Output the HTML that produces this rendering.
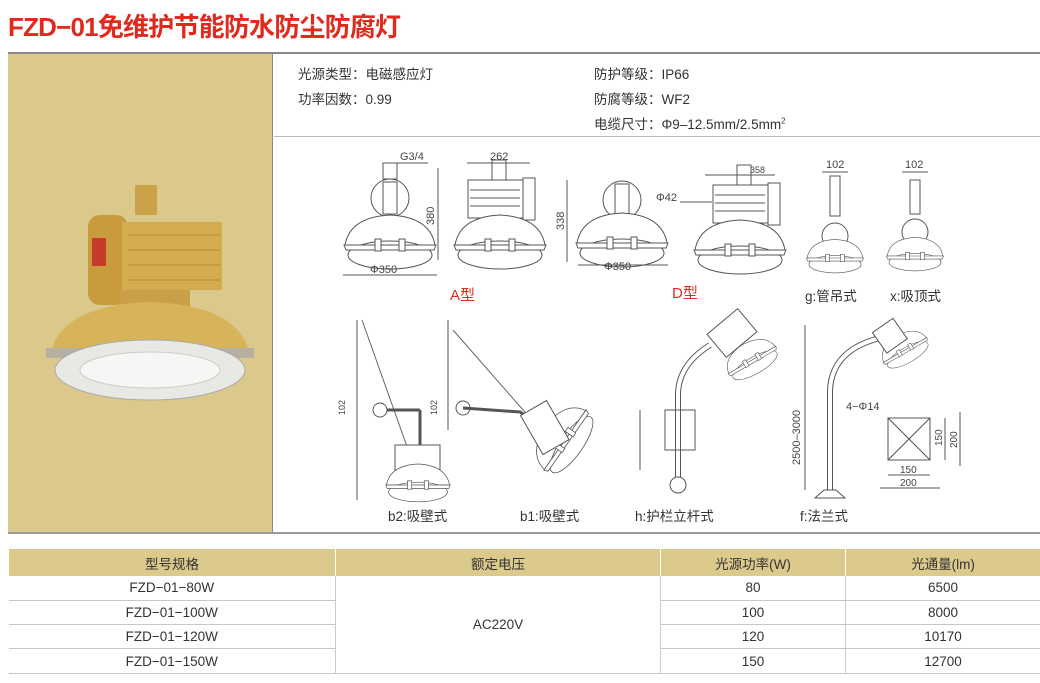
<!DOCTYPE html>
<html><head><meta charset="utf-8"><style>
*{margin:0;padding:0;box-sizing:border-box}
body{width:1040px;height:683px;background:#fff;position:relative;overflow:hidden;font-family:"Liberation Sans","Noto Sans CJK SC",sans-serif;color:#333}
.t{position:absolute;white-space:nowrap}
.title{left:8px;top:7px;font-size:26px;color:#e02a1e;font-weight:bold;letter-spacing:-0.8px}
.spec{font-size:13.5px;color:#333}
table{position:absolute;left:8px;top:549px;width:1032px;border-collapse:collapse;font-size:13.5px;color:#333}
td{text-align:center;height:24.3px;border-bottom:1.5px solid #c8c8c8;border-left:1px solid #ccc;padding:0}
tr.h td{background:#dcc98c;height:27px;border-bottom:none;border-left:1px solid #fff}
td:first-child{border-left:none}
</style></head><body>
<div class="t title">FZD−01免维护节能防水防尘防腐灯</div>
<div style="position:absolute;left:8px;top:52px;width:1032px;height:2px;background:#888"></div>
<div style="position:absolute;left:8px;top:54px;width:265px;height:479px;background:#dbc98b;border-right:1px solid #888"></div>
<div style="position:absolute;left:274px;top:136px;width:766px;height:1px;background:#bbb"></div>
<div style="position:absolute;left:8px;top:532px;width:1032px;height:2px;background:#999"></div>
<div class="t spec" style="left:298px;top:63px">光源类型：电磁感应灯</div>
<div class="t spec" style="left:298px;top:88px">功率因数：0.99</div>
<div class="t spec" style="left:594px;top:63px">防护等级：IP66</div>
<div class="t spec" style="left:594px;top:88px">防腐等级：WF2</div>
<div class="t spec" style="left:594px;top:113px">电缆尺寸：Φ9–12.5mm/2.5mm<sup style="font-size:8px">2</sup></div>

<svg style="position:absolute;left:0;top:0" width="1040" height="683">
<defs>
<g id="shade" fill="#fff" stroke="#555" stroke-width="1">
<path d="M-45 0 Q-40 -28 0 -30 Q40 -28 45 0 Z"/>
<ellipse cx="0" cy="10" rx="42" ry="14"/>
<path d="M-46 0 L46 0 L44 5 L-44 5 Z"/>
<rect x="-15" y="-6" width="6" height="12"/><rect x="9" y="-6" width="6" height="12"/>
</g>
<g id="box" fill="#fff" stroke="#555"><rect x="-32" y="-20" width="55" height="38"/><rect x="23" y="-22" width="12" height="42"/>
<line x1="-30" y1="-10" x2="20" y2="-10"/><line x1="-30" y1="-2" x2="20" y2="-2"/><line x1="-30" y1="6" x2="20" y2="6"/><rect x="-8" y="-40" width="14" height="20"/></g>
</defs>
<g>
<rect x="135" y="185" width="22" height="30" fill="#c9a24a"/>
<rect x="88" y="215" width="40" height="90" rx="12" fill="#c89c3c"/>
<rect x="122" y="222" width="100" height="68" fill="#d4ac50"/>
<g stroke="#b08a35"><line x1="128" y1="235" x2="220" y2="235"/><line x1="128" y1="250" x2="220" y2="250"/><line x1="128" y1="265" x2="220" y2="265"/><line x1="128" y1="280" x2="220" y2="280"/></g>
<rect x="92" y="238" width="14" height="28" fill="#c83a2a"/>
<rect x="120" y="290" width="70" height="25" fill="#c9a048"/>
<path d="M50 355 Q60 305 150 302 Q240 305 250 355 Z" fill="#d7b45a"/>
<rect x="46" y="348" width="208" height="10" fill="#b6b0a0"/>
<ellipse cx="150" cy="370" rx="95" ry="30" fill="#e8e8e4" stroke="#aaa"/>
<ellipse cx="150" cy="370" rx="70" ry="18" fill="#f6f6f4" stroke="#ccc"/>
</g>
<g font-size="11" fill="#444" font-family="Liberation Sans, sans-serif">
<rect x="383" y="163" width="14" height="16" fill="#fff" stroke="#555"/>
<circle cx="390" cy="198" r="19" fill="#fff" stroke="#555"/><rect x="383" y="182" width="14" height="32" fill="#fff" stroke="#555"/>
<use href="#shade" x="390" y="245"/>
<line x1="343" y1="275" x2="437" y2="275" stroke="#555"/><text x="370" y="273">Φ350</text>
<line x1="438" y1="168" x2="438" y2="260" stroke="#555"/><text x="434" y="225" transform="rotate(-90 434 225)">380</text>
<text x="400" y="160">G3/4</text><line x1="397" y1="163" x2="428" y2="163" stroke="#555"/>
<use href="#box" x="500" y="200"/><use href="#shade" x="500" y="245"/>
<line x1="467" y1="163" x2="530" y2="163" stroke="#555"/><text x="490" y="160">262</text>
<circle cx="622" cy="200" r="19" fill="#fff" stroke="#555"/><rect x="615" y="184" width="14" height="32" fill="#fff" stroke="#555"/>
<use href="#shade" x="622" y="243"/>
<line x1="567" y1="180" x2="567" y2="262" stroke="#555"/><text x="564" y="230" transform="rotate(-90 564 230)">338</text>
<line x1="578" y1="265" x2="668" y2="265" stroke="#555"/><text x="604" y="270">Φ350</text>
<use href="#box" x="745" y="205"/><use href="#shade" x="740" y="250"/>
<line x1="705" y1="175" x2="775" y2="175" stroke="#555"/><text x="750" y="173" font-size="9">358</text>
<text x="656" y="201">Φ42</text><line x1="680" y1="202" x2="712" y2="202" stroke="#555"/>
<line x1="822" y1="172" x2="848" y2="172" stroke="#555"/><text x="826" y="168">102</text>
<rect x="830" y="176" width="10" height="40" fill="#fff" stroke="#555"/><circle cx="835" cy="236" r="13" fill="#fff" stroke="#555"/>
<g transform="translate(835 258) scale(0.62)"><use href="#shade"/></g>
<line x1="902" y1="172" x2="928" y2="172" stroke="#555"/><text x="905" y="168">102</text>
<rect x="910" y="180" width="10" height="34" fill="#fff" stroke="#555"/><circle cx="915" cy="232" r="13" fill="#fff" stroke="#555"/>
<g transform="translate(915 256) scale(0.62)"><use href="#shade"/></g>
<line x1="357" y1="320" x2="357" y2="500" stroke="#555"/><line x1="362" y1="320" x2="410" y2="455" stroke="#666"/>
<line x1="380" y1="410" x2="420" y2="410" stroke="#555" stroke-width="3"/><circle cx="380" cy="410" r="7" fill="#fff" stroke="#555"/>
<line x1="420" y1="410" x2="420" y2="445" stroke="#555" stroke-width="3"/>
<rect x="395" y="445" width="45" height="25" fill="#fff" stroke="#555"/>
<g transform="translate(418 485) scale(0.7)"><use href="#shade"/></g>
<text x="345" y="415" font-size="9" transform="rotate(-90 345 415)">102</text>
<line x1="448" y1="320" x2="448" y2="430" stroke="#555"/><line x1="453" y1="330" x2="545" y2="435" stroke="#666"/>
<circle cx="463" cy="408" r="7" fill="#fff" stroke="#555"/><path d="M463 408 L520 412 L545 428" fill="none" stroke="#555" stroke-width="3"/>
<g transform="translate(565 440) rotate(-55) scale(0.8)"><use href="#shade"/></g>
<rect x="530" y="405" width="30" height="45" fill="#fff" stroke="#555" transform="rotate(-30 545 428)"/>
<text x="437" y="415" font-size="9" transform="rotate(-90 437 415)">102</text>
<path d="M678 480 L678 395 Q678 365 710 345" fill="none" stroke="#555" stroke-width="6"/><path d="M678 480 L678 395 Q678 365 710 345" fill="none" stroke="#fff" stroke-width="4"/>
<rect x="665" y="410" width="30" height="40" fill="none" stroke="#555"/><line x1="640" y1="410" x2="640" y2="470" stroke="#555"/>
<circle cx="678" cy="485" r="8" fill="#fff" stroke="#555"/>
<rect x="712" y="318" width="40" height="30" fill="#fff" stroke="#555" transform="rotate(-40 732 333)"/>
<g transform="translate(752 360) rotate(-30) scale(0.6)"><use href="#shade"/></g>
<line x1="805" y1="325" x2="805" y2="490" stroke="#555"/><text x="800" y="465" transform="rotate(-90 800 465)">2500–3000</text>
<path d="M830 490 L830 390 Q832 350 880 338" fill="none" stroke="#555" stroke-width="6"/><path d="M830 490 L830 390 Q832 350 880 338" fill="none" stroke="#fff" stroke-width="4"/>
<path d="M815 498 L845 498 L836 490 L824 490 Z" fill="#fff" stroke="#555"/>
<g transform="translate(905 350) rotate(-30) scale(0.55)"><use href="#shade"/></g>
<rect x="877" y="323" width="25" height="25" fill="#fff" stroke="#555" transform="rotate(-35 890 335)"/>
<rect x="888" y="418" width="42" height="42" fill="#fff" stroke="#555"/><line x1="888" y1="418" x2="930" y2="460" stroke="#555"/><line x1="930" y1="418" x2="888" y2="460" stroke="#555"/>
<text x="846" y="410">4−Φ14</text>
<line x1="888" y1="475" x2="930" y2="475" stroke="#555"/><text x="900" y="473" font-size="10">150</text>
<line x1="880" y1="488" x2="940" y2="488" stroke="#555"/><text x="900" y="486" font-size="10">200</text>
<line x1="945" y1="418" x2="945" y2="460" stroke="#555"/><text x="942" y="446" font-size="10" transform="rotate(-90 942 446)">150</text>
<line x1="960" y1="412" x2="960" y2="466" stroke="#555"/><text x="957" y="448" font-size="10" transform="rotate(-90 957 448)">200</text>
</g>
</svg>
<div class="t" style="left:450px;top:284px;font-size:15px;color:#e02a1e">A型</div>
<div class="t" style="left:672px;top:282px;font-size:15px;color:#e02a1e">D型</div>
<div class="t spec" style="left:805px;top:285px">g:管吊式</div>
<div class="t spec" style="left:890px;top:285px">x:吸顶式</div>
<div class="t spec" style="left:388px;top:505px">b2:吸壁式</div>
<div class="t spec" style="left:520px;top:505px">b1:吸壁式</div>
<div class="t spec" style="left:635px;top:505px">h:护栏立杆式</div>
<div class="t spec" style="left:800px;top:505px">f:法兰式</div>
<table>
<tr class="h"><td style="width:327px">型号规格</td><td style="width:325px">额定电压</td><td style="width:185px">光源功率(W)</td><td>光通量(lm)</td></tr>
<tr><td>FZD−01−80W</td><td rowspan="4">AC220V</td><td>80</td><td>6500</td></tr>
<tr><td>FZD−01−100W</td><td>100</td><td>8000</td></tr>
<tr><td>FZD−01−120W</td><td>120</td><td>10170</td></tr>
<tr><td>FZD−01−150W</td><td>150</td><td>12700</td></tr>
</table>
</body></html>
